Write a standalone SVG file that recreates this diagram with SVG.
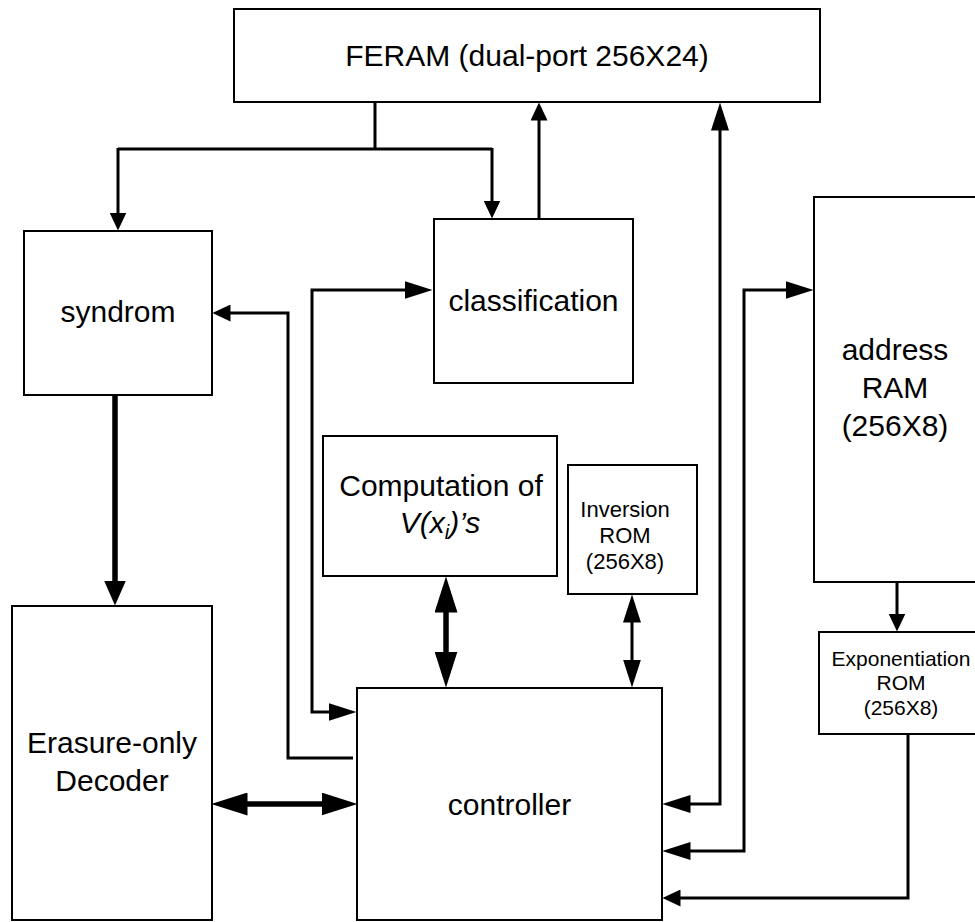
<svg xmlns="http://www.w3.org/2000/svg" width="975" height="922" viewBox="0 0 975 922">
<style>
.box{fill:#fff;stroke:#000;stroke-width:2}
.t{font-family:"Liberation Sans",Arial,sans-serif;font-size:30px;fill:#000;text-anchor:middle}
.s{font-size:22px}
.e{font-size:21px}
.c{fill:none;stroke:#000;stroke-width:3}
.k{fill:none;stroke:#000;stroke-width:5.5}
</style>
<defs>
<marker id="sh" markerUnits="userSpaceOnUse" markerWidth="18" markerHeight="17" refX="0.5" refY="8.5" orient="auto-start-reverse" viewBox="0 0 18 17"><path d="M0,0 L18,8.5 L0,17 z" fill="#000"/></marker>
<marker id="lg" markerUnits="userSpaceOnUse" markerWidth="28" markerHeight="18" refX="0.5" refY="9" orient="auto-start-reverse" viewBox="0 0 28 18"><path d="M0,0 L28,9 L0,18 z" fill="#000"/></marker>
<marker id="tk" markerUnits="userSpaceOnUse" markerWidth="36" markerHeight="23" refX="0.5" refY="11.5" orient="auto-start-reverse" viewBox="0 0 36 23"><path d="M0,0 L36,11.5 L0,23 z" fill="#000"/></marker>
<marker id="tv" markerUnits="userSpaceOnUse" markerWidth="25" markerHeight="22" refX="0.5" refY="11" orient="auto-start-reverse" viewBox="0 0 25 22"><path d="M0,0 L25,11 L0,22 z" fill="#000"/></marker>
</defs>
<g id="feram"><rect class="box" x="234" y="9" width="586" height="93"/><text class="t" x="527" y="66">FERAM (dual-port 256X24)</text></g>
<g id="syndrom"><rect class="box" x="24" y="231" width="188" height="164"/><text class="t" x="118" y="322">syndrom</text></g>
<g id="classification"><rect class="box" x="434" y="219" width="199" height="164"/><text class="t" x="533.5" y="311">classification</text></g>
<g id="address-ram"><rect class="box" x="814" y="197" width="163" height="385"/><text class="t" x="895" y="360">address</text><text class="t" x="895" y="398">RAM</text><text class="t" x="895" y="436">(256X8)</text></g>
<g id="computation"><rect class="box" x="323" y="436" width="234" height="140"/><text class="t" x="441" y="496">Computation of</text><text class="t" x="440" y="533" font-style="italic">V(x<tspan font-size="20" dy="6">i</tspan><tspan dy="-6">)’s</tspan></text></g>
<g id="inversion-rom"><rect class="box" x="568" y="465" width="129" height="129"/><text class="t s" x="625" y="517">Inversion</text><text class="t s" x="625" y="543">ROM</text><text class="t s" x="625" y="569">(256X8)</text></g>
<g id="exponentiation-rom"><rect class="box" x="819" y="632" width="164" height="102"/><text class="t e" x="901" y="666">Exponentiation</text><text class="t e" x="901" y="690">ROM</text><text class="t e" x="901" y="715">(256X8)</text></g>
<g id="decoder"><rect class="box" x="12" y="606" width="200" height="314"/><text class="t" x="112" y="753">Erasure-only</text><text class="t" x="112" y="791">Decoder</text></g>
<g id="controller"><rect class="box" x="357" y="688" width="305" height="232"/><text class="t" x="509.5" y="815">controller</text></g>
<g id="connectors">
<path class="c" d="M375,102 V149 M118,149 H492"/>
<path class="c" d="M118,148 V213" marker-end="url(#sh)"/>
<path class="c" d="M492,148 V201" marker-end="url(#sh)"/>
<path class="c" d="M539,219 V120" marker-end="url(#sh)"/>
<path class="c" d="M690,804 H720 V130" marker-start="url(#lg)" marker-end="url(#lg)"/>
<path class="c" d="M690,851 H744 V290 H786" marker-start="url(#lg)" marker-end="url(#lg)"/>
<path class="c" d="M908,734 V898 H680" marker-end="url(#sh)"/>
<path class="c" d="M897,582 V614" marker-end="url(#sh)"/>
<path class="c" d="M329,712 H312 V290 H405" marker-start="url(#lg)" marker-end="url(#lg)"/>
<path class="c" d="M230,313 H288 V758 H353" marker-start="url(#sh)"/>
<path class="c" d="M632,622 V660" marker-start="url(#lg)" marker-end="url(#lg)"/>
<path class="k" d="M115,395 V581" marker-end="url(#tv)"/>
<path class="k" d="M446,612 V652" marker-start="url(#tk)" marker-end="url(#tk)"/>
<path class="k" d="M247,804 H322" marker-start="url(#tk)" marker-end="url(#tk)"/>
</g>
</svg>
